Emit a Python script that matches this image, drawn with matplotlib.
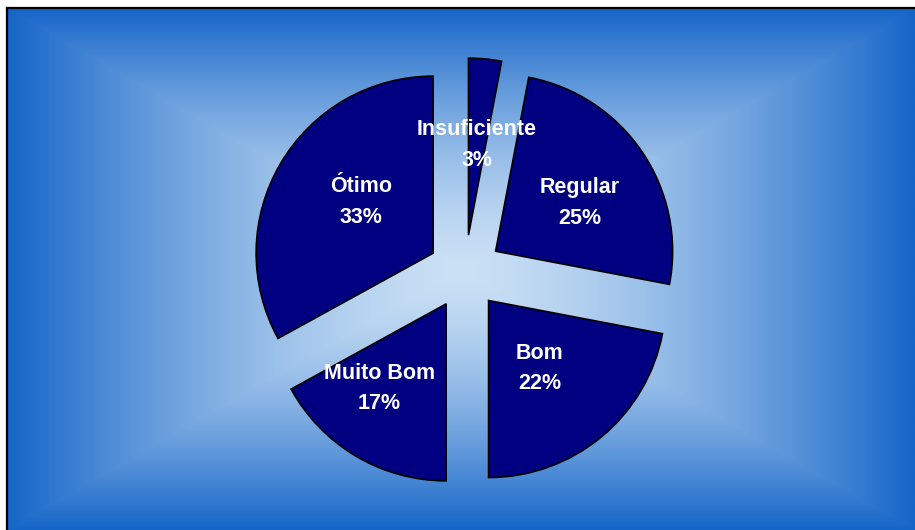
import numpy as np
import matplotlib.pyplot as plt

# dados do grafico
categorias = ["Insuficiente", "Regular", "Bom", "Muito Bom", "Ótimo"]
percentuais = [3, 25, 22, 17, 33]

# posicao de cada rotulo: distancia (fracao do raio) e desvio de angulo
dist_rotulo = [0.51, 0.55, 0.48, 0.61, 0.50]
desvio_ang = [0, -4.5, -2.7, -7.6, -4.7]

W, H = 915, 530
fig = plt.figure(figsize=(W / 100, H / 100), dpi=100)
ax = fig.add_axes([0, 0, 1, 1])

# fundo: degrade retangular, claro no meio e azul nas bordas
x0, x1, y0, y1 = 7, 915, 0, 522
xx, yy = np.meshgrid(np.linspace(x0, x1, 700), np.linspace(y0, y1, 420))
cx, cy = (x0 + x1) / 2, (y0 + y1) / 2
t = np.maximum(np.abs(xx - cx) / ((x1 - x0) / 2), np.abs(yy - cy) / ((y1 - y0) / 2))
t = t ** 1.5
centro = np.array([202, 224, 245]) / 255
borda = np.array([21, 101, 200]) / 255
img = centro * (1 - t[..., None]) + borda * t[..., None]
ax.imshow(img, extent=(x0, x1, y0, y1), origin="lower",
          interpolation="bilinear", zorder=0)

# pizza explodida
raio = 177
wedges, _ = ax.pie(percentuais, startangle=90, counterclock=False,
                   explode=[37] * len(percentuais), center=(465, 258),
                   radius=raio, colors=["#000080"] * len(percentuais),
                   wedgeprops=dict(edgecolor="black", linewidth=1.2),
                   frame=True)

for w, nome, p, d, da in zip(wedges, categorias, percentuais, dist_rotulo, desvio_ang):
    tm = np.deg2rad((w.theta1 + w.theta2) / 2 + da)
    px = w.center[0] + d * w.r * np.cos(tm)
    py = w.center[1] + d * w.r * np.sin(tm)
    ax.text(px, py, f"{nome}\n{p}%", ha="center", va="center", color="white",
            fontsize=15.5, fontweight="bold", family="Liberation Sans",
            linespacing=1.6, zorder=5)

# moldura (so topo e esquerda aparecem)
ax.plot([x0, x0], [y0, y1], color="black", lw=1.6, zorder=6)
ax.plot([x0, x1], [y1, y1], color="black", lw=1.6, zorder=6)

ax.set_xlim(0, W)
ax.set_ylim(0, H)
ax.set_axis_off()

fig.savefig("out.png", dpi=100)
